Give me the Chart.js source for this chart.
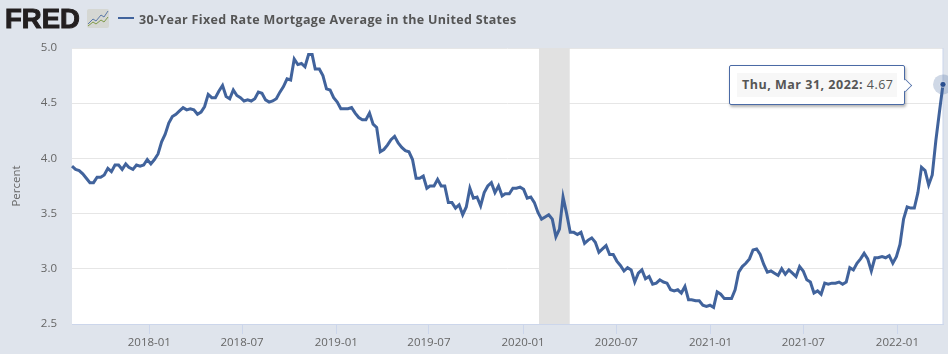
<!DOCTYPE html>
<html lang="en">

<head>
    <meta charset="UTF-8" />
    <title>30-Year Fixed Rate Mortgage Average in the United States</title>
    <script src="https://cdn.jsdelivr.net/npm/chart.js"></script>
    <style>
        html, body { margin: 0; padding: 0; background: #dfe4ec; }
        .wrap { position: relative; width: 948px; height: 354px; overflow: hidden; }
        canvas { position: absolute; left: 0; top: 0; }
        .logo { position: absolute; left: 5px; top: 3px; font: bold 27.5px "Liberation Sans", sans-serif; color: #231f20; -webkit-text-stroke: 1px #231f20; }
        .spark { position: absolute; left: 87px; top: 9px; }
        .legend-line { position: absolute; left: 118px; top: 17px; width: 16px; height: 2px; background: #41639c; }
        .title { position: absolute; left: 139px; top: 11px; font: bold 12.5px "Open Sans", sans-serif; letter-spacing: 0.33px; color: #555; white-space: nowrap; }
        #tip { position: absolute; box-sizing: border-box; background: #fff; border: 1px solid #4a6aa5; border-radius: 2px; box-shadow: 1px 2px 3px rgba(0,0,0,.3); padding: 7px; width: 176px; height: 40px; }
        #tip .in { background: #f7f7f7; height: 24px; padding-left: 5px; font: 12.5px/24px "Open Sans", sans-serif; letter-spacing: 0.5px; color: #555; white-space: nowrap; }
        #tip .arrow { position: absolute; right: -7px; top: 14px; width: 10px; height: 10px; background: #fff; border-top: 1px solid #4a6aa5; border-right: 1px solid #4a6aa5; transform: rotate(45deg) scale(.85); }
    </style>
</head>

<body>
    <div class="wrap">
        <canvas id="grafico" width="948" height="354"></canvas>
        <div class="logo">FRED</div>
        <svg class="spark" width="22" height="19" viewBox="0 0 22 19">
            <rect width="22" height="19" rx="2" fill="#d5d7d3" />
            <polyline points="1,15 6,10 9,12 14,6 17,8 21,2" fill="none" stroke="#5a78a8" stroke-width="1" />
            <polyline points="1,17 6,13 9,15 14,11 17,13 21,8" fill="none" stroke="#7f9a4a" stroke-width="1" />
        </svg>
        <div class="legend-line"></div>
        <div class="title">30-Year Fixed Rate Mortgage Average in the United States</div>
        <div id="tip" style="display:none"><div class="in"><b id="tipData"></b> <span id="tipValor"></span></div><div class="arrow"></div></div>
    </div>

    <script>
        const datas = [
            '2017-08-03','2017-08-10','2017-08-17','2017-08-24','2017-08-31','2017-09-07','2017-09-14','2017-09-21','2017-09-28',
            '2017-10-05','2017-10-12','2017-10-19','2017-10-26','2017-11-02','2017-11-09','2017-11-16','2017-11-22','2017-11-30',
            '2017-12-07','2017-12-14','2017-12-21','2017-12-28',
            '2018-01-04','2018-01-11','2018-01-18','2018-01-25','2018-02-01','2018-02-08','2018-02-15','2018-02-22','2018-03-01',
            '2018-03-08','2018-03-15','2018-03-22','2018-03-29','2018-04-05','2018-04-12','2018-04-19','2018-04-26','2018-05-03',
            '2018-05-10','2018-05-17','2018-05-24','2018-05-31','2018-06-07','2018-06-14','2018-06-21','2018-06-28','2018-07-05',
            '2018-07-12','2018-07-19','2018-07-26','2018-08-02','2018-08-09','2018-08-16','2018-08-23','2018-08-30','2018-09-06',
            '2018-09-13','2018-09-20','2018-09-27','2018-10-04','2018-10-11','2018-10-18','2018-10-25','2018-11-01','2018-11-08',
            '2018-11-15','2018-11-21','2018-11-29','2018-12-06','2018-12-13','2018-12-20','2018-12-27',
            '2019-01-03','2019-01-10','2019-01-17','2019-01-24','2019-01-31','2019-02-07','2019-02-14','2019-02-21','2019-02-28',
            '2019-03-07','2019-03-14','2019-03-21','2019-03-28','2019-04-04','2019-04-11','2019-04-18','2019-04-25','2019-05-02',
            '2019-05-09','2019-05-16','2019-05-23','2019-05-30','2019-06-06','2019-06-13','2019-06-20','2019-06-27','2019-07-03',
            '2019-07-11','2019-07-18','2019-07-25','2019-08-01','2019-08-08','2019-08-15','2019-08-22','2019-08-29','2019-09-05',
            '2019-09-12','2019-09-19','2019-09-26','2019-10-03','2019-10-10','2019-10-17','2019-10-24','2019-10-31','2019-11-07',
            '2019-11-14','2019-11-21','2019-11-27','2019-12-05','2019-12-12','2019-12-19','2019-12-26',
            '2020-01-02','2020-01-09','2020-01-16','2020-01-23','2020-01-30','2020-02-06','2020-02-13','2020-02-20','2020-02-27',
            '2020-03-05','2020-03-12','2020-03-19','2020-03-26','2020-04-02','2020-04-09','2020-04-16','2020-04-23','2020-04-30',
            '2020-05-07','2020-05-14','2020-05-21','2020-05-28','2020-06-04','2020-06-11','2020-06-18','2020-06-25','2020-07-02',
            '2020-07-09','2020-07-16','2020-07-23','2020-07-30','2020-08-06','2020-08-13','2020-08-20','2020-08-27','2020-09-03',
            '2020-09-10','2020-09-17','2020-09-24','2020-10-01','2020-10-08','2020-10-15','2020-10-22','2020-10-29','2020-11-05',
            '2020-11-12','2020-11-19','2020-11-25','2020-12-03','2020-12-10','2020-12-17','2020-12-24','2020-12-31',
            '2021-01-07','2021-01-14','2021-01-21','2021-01-28','2021-02-04','2021-02-11','2021-02-18','2021-02-25','2021-03-04',
            '2021-03-11','2021-03-18','2021-03-25','2021-04-01','2021-04-08','2021-04-15','2021-04-22','2021-04-29','2021-05-06',
            '2021-05-13','2021-05-20','2021-05-27','2021-06-03','2021-06-10','2021-06-17','2021-06-24','2021-07-01','2021-07-08',
            '2021-07-15','2021-07-22','2021-07-29','2021-08-05','2021-08-12','2021-08-19','2021-08-26','2021-09-02','2021-09-09',
            '2021-09-16','2021-09-23','2021-09-30','2021-10-07','2021-10-14','2021-10-21','2021-10-28','2021-11-04','2021-11-11',
            '2021-11-18','2021-11-24','2021-12-02','2021-12-09','2021-12-16','2021-12-23','2021-12-30',
            '2022-01-06','2022-01-13','2022-01-20','2022-01-27','2022-02-03','2022-02-10','2022-02-17','2022-02-24','2022-03-03',
            '2022-03-10','2022-03-17','2022-03-24','2022-03-31'
        ];

        const taxas = [
            3.93,3.90,3.89,3.86,3.82,3.78,3.78,3.83,3.83,
            3.85,3.91,3.88,3.94,3.94,3.90,3.95,3.92,3.90,
            3.94,3.93,3.94,3.99,
            3.95,3.99,4.04,4.15,4.22,4.32,4.38,4.40,4.43,
            4.46,4.44,4.45,4.44,4.40,4.42,4.47,4.58,4.55,
            4.55,4.61,4.66,4.56,4.54,4.62,4.57,4.55,4.52,
            4.53,4.52,4.54,4.60,4.59,4.53,4.51,4.52,4.54,
            4.60,4.65,4.72,4.71,4.90,4.85,4.86,4.83,4.94,
            4.94,4.81,4.81,4.75,4.63,4.62,4.55,
            4.51,4.45,4.45,4.45,4.46,4.41,4.37,4.35,4.35,
            4.41,4.31,4.28,4.06,4.08,4.12,4.17,4.20,4.14,
            4.10,4.07,4.06,3.99,3.82,3.82,3.84,3.73,3.75,
            3.75,3.81,3.75,3.75,3.60,3.60,3.55,3.58,3.49,
            3.56,3.73,3.64,3.65,3.57,3.69,3.75,3.78,3.69,
            3.75,3.66,3.68,3.68,3.73,3.73,3.74,
            3.72,3.64,3.65,3.60,3.51,3.45,3.47,3.49,3.45,
            3.29,3.36,3.65,3.50,3.33,3.33,3.31,3.33,3.23,
            3.26,3.28,3.24,3.15,3.18,3.21,3.13,3.13,3.07,
            3.03,2.98,3.01,2.99,2.88,2.96,2.99,2.91,2.93,
            2.86,2.87,2.90,2.88,2.87,2.81,2.80,2.81,2.78,
            2.84,2.72,2.72,2.71,2.71,2.67,2.66,2.67,
            2.65,2.79,2.77,2.73,2.73,2.73,2.81,2.97,3.02,
            3.05,3.09,3.17,3.18,3.13,3.04,2.97,2.98,2.96,
            2.94,3.00,2.95,2.99,2.96,2.93,3.02,2.98,2.90,
            2.88,2.78,2.80,2.77,2.87,2.86,2.87,2.87,2.88,
            2.86,2.88,3.01,2.99,3.05,3.09,3.14,3.09,2.98,
            3.10,3.10,3.11,3.10,3.12,3.05,3.11,
            3.22,3.45,3.56,3.55,3.55,3.69,3.92,3.89,3.76,
            3.85,4.16,4.42,4.67
        ];

        const ticksX = ['2018-01', '2018-07', '2019-01', '2019-07', '2020-01', '2020-07', '2021-01', '2021-07', '2022-01'];
        const ticksY = [2.5, 3.0, 3.5, 4.0, 4.5, 5.0];
        const recessao = ['2020-02-01', '2020-04-01'];
        const textoData = 'Thu, Mar 31, 2022:';

        function ms(texto) {
            return Date.parse(texto.length == 7 ? texto + '-01' : texto);
        }

        const pontos = datas.map((d, i) => ({ x: ms(d), y: taxas[i] }));
        const ultimo = pontos.length - 1;

        // faixa de recessao e linha vertical do cursor
        const faixas = {
            id: 'faixas',
            beforeDatasetsDraw(chart) {
                const { ctx, chartArea, scales } = chart;
                const x1 = scales.x.getPixelForValue(ms(recessao[0]));
                const x2 = scales.x.getPixelForValue(ms(recessao[1]));
                const xu = scales.x.getPixelForValue(pontos[ultimo].x);
                ctx.save();
                ctx.fillStyle = '#e1e1e1';
                ctx.fillRect(x1, chartArea.top, x2 - x1, chartArea.height);
                ctx.fillStyle = '#ccd6eb';
                ctx.fillRect(xu - 0.5, chartArea.top, 1, chartArea.height);
                ctx.restore();
            }
        };

        function tooltipExterno({ chart, tooltip }) {
            const tip = document.getElementById('tip');
            if (tooltip.opacity == 0) return;
            document.getElementById('tipData').textContent = textoData;
            document.getElementById('tipValor').textContent = taxas[ultimo].toFixed(2);
            tip.style.display = 'block';
            tip.style.left = (tooltip.caretX - 214) + 'px';
            tip.style.top = (tooltip.caretY - 19.5) + 'px';
        }

        const ctx = document.getElementById('grafico').getContext('2d');

        const grafico = new Chart(ctx, {
            type: 'line',
            data: {
                datasets: [{
                    label: '30-Year Fixed Rate Mortgage Average in the United States',
                    data: pontos,
                    borderColor: '#41639c',
                    borderWidth: 3,
                    tension: 0,
                    clip: { left: 1, right: 10, top: 1, bottom: 1 },
                    pointRadius: c => c.dataIndex == ultimo ? 3 : 0,
                    pointHoverRadius: c => c.dataIndex == ultimo ? 3 : 0,
                    pointBackgroundColor: '#2a4f8f',
                    pointBorderColor: 'rgba(255, 255, 255, 0.55)',
                    pointBorderWidth: 1,
                    pointHoverBorderWidth: 1,
                    order: 1
                }, {
                    label: 'destaque',
                    data: [pontos[ultimo]],
                    pointRadius: 10,
                    pointHoverRadius: 10,
                    pointBackgroundColor: 'rgba(65, 99, 156, 0.25)',
                    pointBorderWidth: 0,
                    clip: false,
                    order: 2
                }]
            },
            options: {
                responsive: false,
                animation: false,
                events: [],
                layout: { autoPadding: false, padding: { top: 48, right: 5, left: 0, bottom: 0 } },
                plugins: {
                    legend: { display: false },
                    title: { display: false },
                    tooltip: { enabled: false, external: tooltipExterno }
                },
                scales: {
                    x: {
                        type: 'linear',
                        min: ms('2017-08-03'),
                        max: ms('2022-03-31'),
                        afterBuildTicks(eixo) {
                            eixo.ticks = ticksX.map(t => ({ value: ms(t) }));
                        },
                        afterFit(eixo) {
                            eixo.height = 30;
                        },
                        border: { color: '#ccd6eb' },
                        grid: { drawOnChartArea: false, tickColor: '#ccd6eb', tickLength: 10 },
                        ticks: {
                            autoSkip: false,
                            maxRotation: 0,
                            color: '#666',
                            padding: 2,
                            font: { family: 'Open Sans', size: 11.5 },
                            callback(v) {
                                return new Date(v).toISOString().slice(0, 7);
                            }
                        }
                    },
                    y: {
                        min: 2.5,
                        max: 5,
                        afterBuildTicks(eixo) {
                            eixo.ticks = ticksY.map(v => ({ value: v }));
                        },
                        afterFit(eixo) {
                            eixo.width = 72;
                        },
                        border: { display: false },
                        grid: { color: '#e6e6e6', drawTicks: false },
                        ticks: {
                            color: '#666',
                            padding: 15,
                            font: { family: 'Open Sans', size: 11.5 },
                            callback: v => v.toFixed(1)
                        },
                        title: {
                            display: true,
                            text: 'Percent',
                            color: '#666',
                            padding: { top: 10, bottom: 0 },
                            font: { family: 'Open Sans', size: 11.5 }
                        }
                    }
                }
            },
            plugins: [{
                id: 'fundo',
                beforeDraw(chart) {
                    const { ctx, chartArea } = chart;
                    ctx.save();
                    ctx.fillStyle = '#fff';
                    ctx.fillRect(chartArea.left, chartArea.top, chartArea.width, chartArea.height);
                    ctx.restore();
                }
            }, faixas]
        });

        grafico.tooltip.setActiveElements([{ datasetIndex: 0, index: ultimo }], { x: 0, y: 0 });
        grafico.update();
    </script>
</body>

</html>
